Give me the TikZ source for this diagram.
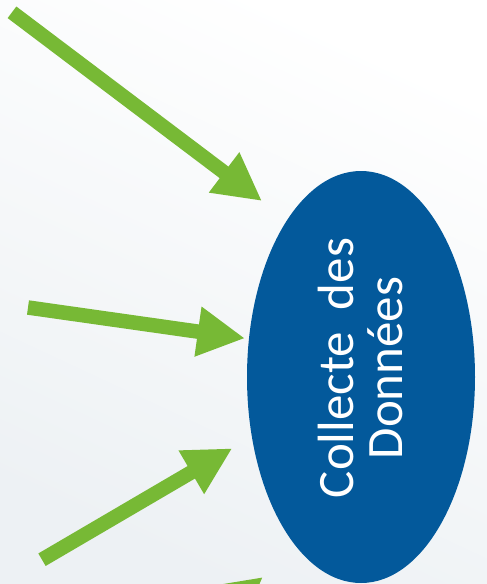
\documentclass[tikz,border=0pt]{standalone}
\usepackage{fontspec}
\setmainfont{Carlito}
\usepackage{xcolor}
\usetikzlibrary{arrows.meta,positioning,shapes.geometric}

\definecolor{datablue}{HTML}{03599B}
\definecolor{feedgreen}{HTML}{77B935}
\definecolor{bgtint}{HTML}{EDF1F4}

\begin{document}
\begin{tikzpicture}[x=1pt,y=-1pt,
    feed/.style={draw=feedgreen,line width=14.5pt,-{Triangle[length=47.5pt,width=47pt]}},
    datacloud/.style={ellipse,fill=datablue,minimum width=228pt,minimum height=412pt,inner sep=0pt},
    datatext/.style={text=white,align=center,inner sep=0pt,rotate=90,font=\fontsize{51}{49}\selectfont}]
    \useasboundingbox (0,0) rectangle (487,584);
    \clip (0,0) rectangle (487,584);
    % Background
    \shade[top color=white,middle color=white,bottom color=bgtint,shading angle=-25] (0,0) rectangle (487,584);
    % Central node
    \node[datacloud] (col) at (361,377) {};
    \node[datatext] (coltxt) at ([yshift=9pt,xshift=-1pt]col.center) {Collecte\hspace{0.2em} des\\Données};
    % Arrow ends
    \coordinate (s1) at (12,12.3);   \coordinate (t1) at (262,201);
    \coordinate (s2) at (28,307.5);  \coordinate (t2) at (245,338.3);
    \coordinate (s3) at (42,559.7);  \coordinate (t3) at (232.3,448.3);
    \coordinate (s4) at (145,669);   \coordinate (t4) at (263,577);
    % Incoming arrows
    \draw[feed] (s1) -- (t1);
    \draw[feed] (s2) -- (t2);
    \draw[feed] (s3) -- (t3);
    \draw[feed] (s4) -- (t4);
\end{tikzpicture}
\end{document}
